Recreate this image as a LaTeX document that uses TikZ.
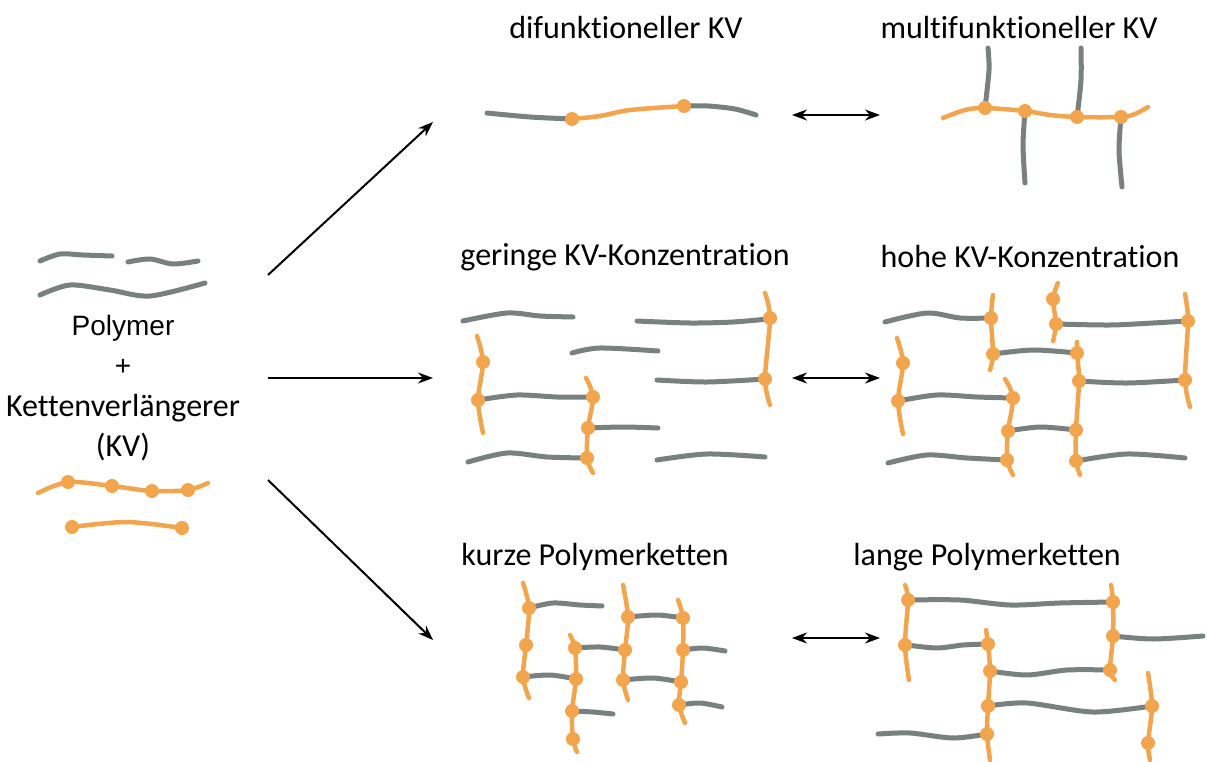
\documentclass[tikz,border=0pt]{standalone}
\usepackage{fontspec}
\setmainfont{Carlito}[Ligatures=NoCommon]
\newfontfamily\arialfont{Liberation Sans}
\usetikzlibrary{arrows.meta}
\definecolor{chaingray}{RGB}{120,128,128}
\definecolor{kvorange}{RGB}{243,165,78}

\tikzset{
  polychain/.style={draw=chaingray, line width=5pt, line cap=round},
  kvchain/.style={draw=kvorange, line width=4.5pt, line cap=round},
  lbl/.style={font=\fontsize{32}{38}\selectfont, inner sep=0pt},
  flow/.style={-{Stealth[length=15pt,width=11pt]}, line width=2pt},
  swap/.style={{Stealth[length=15pt,width=11pt]}-{Stealth[length=15pt,width=11pt]}, line width=2pt}
}
\newcommand{\kvdots}[1]{\foreach \p in {#1} \fill[kvorange] \p circle (7pt);}

\begin{document}
\begin{tikzpicture}[x=1pt, y=-1pt]
  \useasboundingbox (0,0) rectangle (1207,762);

  % starting materials
  \draw[polychain] plot[smooth] coordinates {(40,261) (60,254) (83,255) (112,256)};
  \draw[polychain] plot[smooth] coordinates {(128,262) (150,259) (173,264) (198,261)};
  \draw[polychain] plot[smooth] coordinates {(40,295) (70,285) (110,290) (150,296) (205,283)};
  \node[lbl, align=center, font=\fontsize{32}{40.5}\selectfont] (mix) at (123,388)
    {{\arialfont\fontsize{28}{40.5}\selectfont Polymer}\\{\arialfont\fontsize{28}{40.5}\selectfont +}\\Kettenverlängerer\\(KV)};
  \draw[kvchain] plot[smooth] coordinates {(38,493) (68,482) (112,486) (152,491) (188,490) (208,483)};
  \draw[kvchain] plot[smooth] coordinates {(72,527) (127,522) (182,528)};
  \kvdots{(68,482),(112,486),(152,491),(188,490),(72,527),(182,528)}

  % arrows
  \coordinate (out1) at (268,275);
  \coordinate (out2) at (268,378);
  \coordinate (out3) at (268,480);
  \coordinate (in1) at (433,122);
  \coordinate (in2) at (433,378);
  \coordinate (in3) at (433,640);
  \draw[flow] (out1) -- (in1);
  \draw[flow] (out2) -- (in2);
  \draw[flow] (out3) -- (in3);

  % headings
  \node[lbl] (difu) at (626,28) {difunktioneller KV};
  \node[lbl] (multi) at (1019,28) {multifunktioneller KV};
  \node[lbl] (low) at (625,257) {geringe KV-Konzentration};
  \node[lbl] (high) at (1030,257) {hohe KV-Konzentration};
  \node[lbl] (short) at (595,557) {kurze Polymerketten};
  \node[lbl] (long) at (987,557) {lange Polymerketten};

  % row 1: di- vs. multifunctional
  \draw[polychain] plot[smooth] coordinates {(487,113) (530,117) (572,119)};
  \draw[polychain] plot[smooth] coordinates {(684,106) (708,106) (735,109) (756,115)};
  \draw[kvchain] plot[smooth] coordinates {(572,119) (600,116) (630,110) (684,106)};
  \kvdots{(572,119),(684,106)}
  \draw[polychain] plot[smooth] coordinates {(988,48) (989,70) (985,108)};
  \draw[polychain] plot[smooth] coordinates {(1025,111) (1023,145) (1025,183)};
  \draw[polychain] plot[smooth] coordinates {(1081,48) (1081,80) (1077,117)};
  \draw[polychain] plot[smooth] coordinates {(1121,117) (1119,150) (1122,187)};
  \draw[kvchain] plot[smooth] coordinates {(943,118) (965,110) (985,108) (1025,111) (1050,115) (1077,117) (1121,117) (1135,114) (1148,107)};
  \kvdots{(985,108),(1025,111),(1077,117),(1121,117)}

  % row 2: low KV concentration
  \draw[polychain] plot[smooth] coordinates {(463,321) (507,313) (540,316) (573,317)};
  \draw[polychain] plot[smooth] coordinates {(637,321) (690,323) (733,322) (768,319)};
  \draw[polychain] plot[smooth] coordinates {(572,353) (600,348) (658,351)};
  \draw[polychain] plot[smooth] coordinates {(657,380) (707,382) (765,379)};
  \draw[polychain] plot[smooth] coordinates {(478,400) (517,395) (557,397) (592,397)};
  \draw[polychain] plot[smooth] coordinates {(588,428) (623,427) (658,428)};
  \draw[polychain] plot[smooth] coordinates {(468,462) (507,453) (547,457) (587,458)};
  \draw[polychain] plot[smooth] coordinates {(657,460) (707,454) (765,457)};
  \draw[kvchain] plot[smooth] coordinates {(477,336) (483,362) (478,400) (483,433)};
  \draw[kvchain] plot[smooth] coordinates {(586,378) (593,397) (588,428) (587,458) (593,473)};
  \draw[kvchain] plot[smooth] coordinates {(765,293) (770,318) (765,379) (770,405)};
  \kvdots{(483,362),(478,400),(593,397),(588,428),(587,458),(770,318),(765,379)}

  % row 2: high KV concentration
  \draw[polychain] plot[smooth] coordinates {(885,322) (927,313) (960,318) (990,318)};
  \draw[polychain] plot[smooth] coordinates {(1056,324) (1110,325) (1153,323) (1188,321)};
  \draw[polychain] plot[smooth] coordinates {(993,354) (1033,350) (1077,353)};
  \draw[polychain] plot[smooth] coordinates {(1079,381) (1127,383) (1185,380)};
  \draw[polychain] plot[smooth] coordinates {(898,401) (937,395) (977,397) (1013,398)};
  \draw[polychain] plot[smooth] coordinates {(1008,431) (1040,427) (1076,430)};
  \draw[polychain] plot[smooth] coordinates {(888,463) (927,455) (967,458) (1007,460)};
  \draw[polychain] plot[smooth] coordinates {(1076,461) (1127,454) (1185,458)};
  \draw[kvchain] plot[smooth] coordinates {(897,338) (903,363) (898,401) (903,434)};
  \draw[kvchain] plot[smooth] coordinates {(993,295) (991,318) (993,354) (990,370)};
  \draw[kvchain] plot[smooth] coordinates {(1058,283) (1053,299) (1056,324) (1053,341)};
  \draw[kvchain] plot[smooth] coordinates {(1077,342) (1077,353) (1079,381) (1076,430) (1076,461) (1080,475)};
  \draw[kvchain] plot[smooth] coordinates {(1005,379) (1013,398) (1008,431) (1007,460) (1013,475)};
  \draw[kvchain] plot[smooth] coordinates {(1185,294) (1188,321) (1185,380) (1190,407)};
  \kvdots{(903,363),(898,401),(991,318),(993,354),(1053,299),(1056,324),(1077,353),(1079,381),(1076,430),(1076,461),(1013,398),(1008,431),(1007,460),(1188,321),(1185,380)}

  % row 3: short chains
  \draw[polychain] plot[smooth] coordinates {(529,608) (553,603) (580,605) (602,606)};
  \draw[polychain] plot[smooth] coordinates {(628,617) (657,615) (683,618)};
  \draw[polychain] plot[smooth] coordinates {(575,648) (600,647) (625,650)};
  \draw[polychain] plot[smooth] coordinates {(683,650) (703,648) (725,651)};
  \draw[polychain] plot[smooth] coordinates {(523,677) (550,675) (576,679)};
  \draw[polychain] plot[smooth] coordinates {(623,680) (653,678) (681,682)};
  \draw[polychain] plot[smooth] coordinates {(572,711) (593,712) (613,714)};
  \draw[polychain] plot[smooth] coordinates {(679,705) (700,703) (722,707)};
  \draw[kvchain] plot[smooth] coordinates {(523,583) (529,608) (526,645) (523,677) (529,698)};
  \draw[kvchain] plot[smooth] coordinates {(570,635) (575,648) (576,679) (572,711) (573,739) (577,752)};
  \draw[kvchain] plot[smooth] coordinates {(623,585) (628,617) (625,650) (623,680) (628,700)};
  \draw[kvchain] plot[smooth] coordinates {(678,600) (683,618) (683,650) (681,682) (679,705) (685,723)};
  \kvdots{(529,608),(526,645),(523,677),(575,648),(576,679),(572,711),(573,739),(628,617),(625,650),(623,680),(683,618),(683,650),(681,682),(679,705)}

  % row 3: long chains
  \draw[polychain] plot[smooth] coordinates {(908,600) (960,600) (1010,605) (1060,603) (1113,602)};
  \draw[polychain] plot[smooth] coordinates {(1113,636) (1153,639) (1203,636)};
  \draw[polychain] plot[smooth] coordinates {(907,645) (937,648) (963,645) (988,644)};
  \draw[polychain] plot[smooth] coordinates {(990,671) (1027,675) (1067,670) (1110,670)};
  \draw[polychain] plot[smooth] coordinates {(988,706) (1027,703) (1093,712) (1152,706)};
  \draw[polychain] plot[smooth] coordinates {(878,734) (910,733) (953,738) (987,734)};
  \draw[kvchain] plot[smooth] coordinates {(905,585) (908,600) (905,645) (909,680)};
  \draw[kvchain] plot[smooth] coordinates {(986,630) (988,644) (990,671) (988,706) (987,734) (990,760)};
  \draw[kvchain] plot[smooth] coordinates {(1111,585) (1113,602) (1113,636) (1110,670) (1115,680)};
  \draw[kvchain] plot[smooth] coordinates {(1148,673) (1152,706) (1148,743) (1150,760)};
  \kvdots{(908,600),(905,645),(988,644),(990,671),(988,706),(987,734),(1113,602),(1113,636),(1110,670),(1152,706),(1148,743)}

  % comparisons
  \coordinate (a1) at (792,115);  \coordinate (b1) at (880,115);
  \coordinate (a2) at (792,378);  \coordinate (b2) at (880,378);
  \coordinate (a3) at (792,638);  \coordinate (b3) at (880,638);
  \draw[swap] (a1) -- (b1);
  \draw[swap] (a2) -- (b2);
  \draw[swap] (a3) -- (b3);
\end{tikzpicture}
\end{document}
